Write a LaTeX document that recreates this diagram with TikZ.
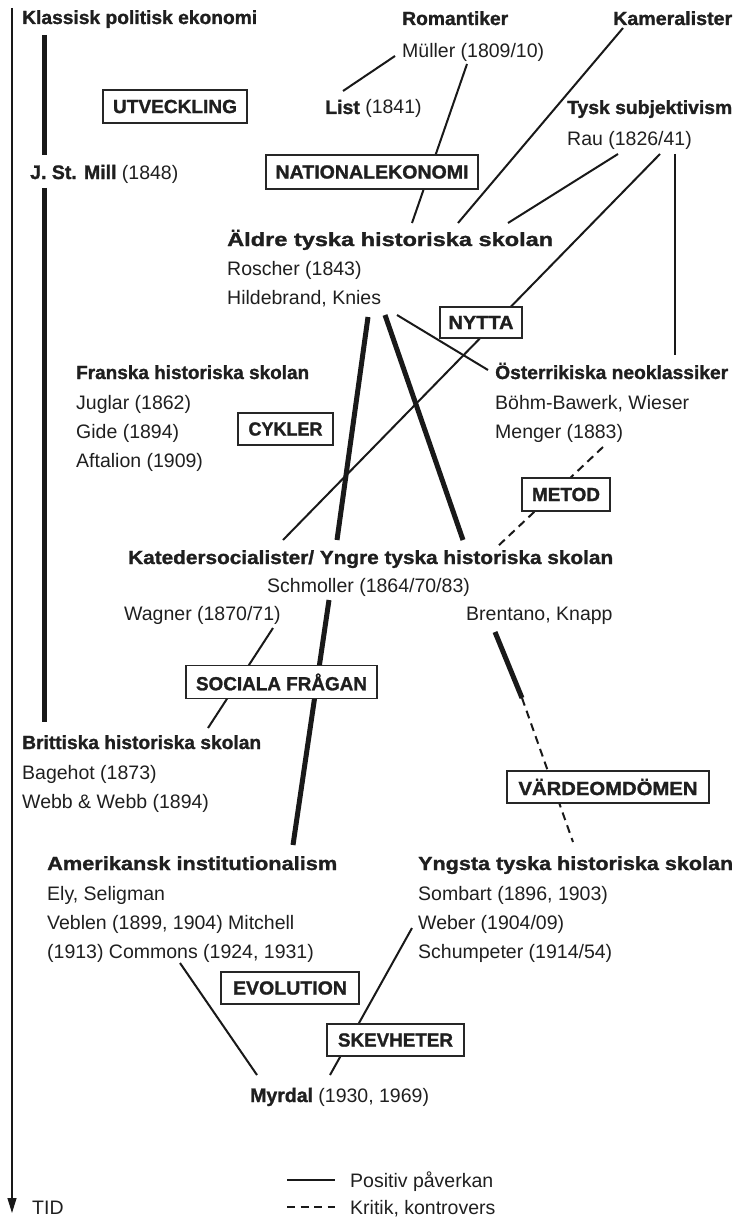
\documentclass[tikz,border=0pt]{standalone}
\usepackage{fontspec}
\setmainfont{Liberation Sans}[BoldFeatures={FakeBold=1.3}]
\usetikzlibrary{arrows.meta}
\newcommand\fw[2]{\resizebox{#1pt}{\height}{#2}}
\begin{document}
\begin{tikzpicture}[x=1pt,y=-1pt,
  txt/.style={inner sep=0pt, anchor=base west, font=\fontsize{19.5}{23}\selectfont, text=black!88},
  hd/.style={inner sep=0pt, anchor=base west, font=\fontsize{19}{23}\selectfont\bfseries, text=black!88},
  lbl/.style={draw=black!85, line width=1.3pt, fill=white, inner sep=0pt, minimum height=33pt, font=\fontsize{19}{23}\selectfont\bfseries, text=black!88},
  posline/.style={line width=2pt, draw=black!90},
  heavyline/.style={line width=5pt, draw=black!90},
  negline/.style={line width=2pt, draw=black!90, dash pattern=on 8pt off 5.5pt},
]
\useasboundingbox (0,0) rectangle (734,1217);

% ---------- text nodes ----------
\node[hd] (klassisk) at (22,24) {\fw{235}{Klassisk politisk ekonomi}};
\node[hd] (romantiker) at (402,25) {\fw{106}{Romantiker}};
\node[txt] (muller) at (402,58) {Müller (1809/10)};
\node[hd] (kameral) at (613,25) {\fw{119}{Kameralister}};
\node[txt] (list) at (325,114) {\textbf{List} (1841)};
\node[hd] (tysk) at (567,114) {\fw{165}{Tysk subjektivism}};
\node[txt] (rau) at (567,146) {Rau (1826/41)};
\node[txt] (mill) at (30,179) {\textbf{J. St. Mill} (1848)};
\node[hd] (aldre) at (227,246) {\fw{326}{Äldre tyska historiska skolan}};
\node[txt] (roscher) at (227,275) {Roscher (1843)};
\node[txt] (hildebrand) at (227,304) {Hildebrand, Knies};
\node[hd] (franska) at (76,379) {\fw{233}{Franska historiska skolan}};
\node[txt] (juglar) at (76,409) {Juglar (1862)};
\node[txt] (gide) at (76,438) {Gide (1894)};
\node[txt] (aftalion) at (76,467) {Aftalion (1909)};
\node[hd] (osterr) at (495,379) {\fw{233}{Österrikiska neoklassiker}};
\node[txt] (bohm) at (495,409) {Böhm-Bawerk, Wieser};
\node[txt] (menger) at (495,438) {Menger (1883)};
\node[hd] (kated) at (128,564) {\fw{485}{Katedersocialister/ Yngre tyska historiska skolan}};
\node[txt] (schmoller) at (267,592) {Schmoller (1864/70/83)};
\node[txt] (wagner) at (124,620) {Wagner (1870/71)};
\node[txt] (brentano) at (466,620) {Brentano, Knapp};
\node[hd] (brittiska) at (22,749) {\fw{239}{Brittiska historiska skolan}};
\node[txt] (bagehot) at (22,779) {Bagehot (1873)};
\node[txt] (webb) at (22,808) {Webb \& Webb (1894)};
\node[hd] (amerik) at (47,870) {\fw{290}{Amerikansk institutionalism}};
\node[txt] (ely) at (47,900) {Ely, Seligman};
\node[txt] (veblen) at (47,929) {Veblen (1899, 1904) Mitchell};
\node[txt] (commons) at (47,958) {(1913) Commons (1924, 1931)};
\node[hd] (yngsta) at (418,870) {\fw{315}{Yngsta tyska historiska skolan}};
\node[txt] (sombart) at (418,900) {Sombart (1896, 1903)};
\node[txt] (weber) at (418,929) {Weber (1904/09)};
\node[txt] (schump) at (418,958) {Schumpeter (1914/54)};
\node[txt] (myrdal) at (250,1102) {\textbf{Myrdal} (1930, 1969)};
\node[txt] (tid) at (32,1214) {TID};
\node[txt] (legpos) at (350,1187) {Positiv påverkan};
\node[txt] (legneg) at (350,1214) {Kritik, kontrovers};

% ---------- connector end points ----------
\coordinate (timeT) at (12,8);
\coordinate (timeB) at (12,1213);
\coordinate (klassB) at (44.5,35);
\coordinate (millT) at (44.5,155);
\coordinate (millB) at (44.5,188);
\coordinate (brittT) at (44.5,722);
\coordinate (mullerL) at (395,56);
\coordinate (listR) at (343,91);
\coordinate (mullerB) at (467,64);
\coordinate (aldreT1) at (412,223);
\coordinate (kameralB) at (623,28);
\coordinate (aldreT2) at (458,223);
\coordinate (rauB1) at (618,154);
\coordinate (aldreT3) at (508,223);
\coordinate (rauB2) at (660,154);
\coordinate (katedT1) at (283,540);
\coordinate (rauB3) at (675,154);
\coordinate (osterrT) at (675,355);
\coordinate (hildB1) at (397,315);
\coordinate (osterrL) at (488,370);
\coordinate (hildB2) at (368,317);
\coordinate (katedT2) at (337,540);
\coordinate (hildB3) at (385,315);
\coordinate (katedT3) at (463,540);
\coordinate (mengerB) at (603,447);
\coordinate (katedT4) at (497,547);
\coordinate (schmB) at (329,600);
\coordinate (amerikT) at (293,845);
\coordinate (wagnerB) at (273,628);
\coordinate (brittR) at (208,728);
\coordinate (brentB) at (495,632);
\coordinate (brentMid) at (522,698);
\coordinate (yngstaT) at (573,842);
\coordinate (commonsB) at (180,963);
\coordinate (myrdalT1) at (257,1075);
\coordinate (weberL) at (412,928);
\coordinate (myrdalT2) at (330,1075);
\coordinate (legA) at (287,1180);
\coordinate (legB) at (335,1180);
\coordinate (legC) at (287,1207);
\coordinate (legD) at (335,1207);

% ---------- connectors ----------
\draw[line width=1.2pt, black!90, -{Triangle[width=9pt,length=15pt]}] (timeT) -- (timeB);
\draw[line width=5.5pt, black!90] (klassB) -- (millT);
\draw[line width=5.5pt, black!90] (millB) -- (brittT);
\draw[posline] (mullerL) -- (listR);
\draw[posline] (mullerB) -- (aldreT1);
\draw[posline] (kameralB) -- (aldreT2);
\draw[posline] (rauB1) -- (aldreT3);
\draw[posline] (rauB2) -- (katedT1);
\draw[posline] (rauB3) -- (osterrT);
\draw[posline] (hildB1) -- (osterrL);
\draw[heavyline] (hildB2) -- (katedT2);
\draw[heavyline] (hildB3) -- (katedT3);
\draw[negline] (mengerB) -- (katedT4);
\draw[heavyline] (schmB) -- (amerikT);
\draw[posline] (wagnerB) -- (brittR);
\draw[heavyline] (brentB) -- (brentMid);
\draw[negline] (brentMid) -- (yngstaT);
\draw[posline] (commonsB) -- (myrdalT1);
\draw[posline] (weberL) -- (myrdalT2);
\draw[posline] (legA) -- (legB);
\draw[negline] (legC) -- (legD);

% ---------- theme boxes ----------
\node[lbl, minimum width=144pt] (utv) at (175,106.5) {\fw{124}{UTVECKLING}};
\node[lbl, minimum width=212pt, minimum height=34pt] (nat) at (372,172) {\fw{193}{NATIONALEKONOMI}};
\node[lbl, minimum width=82pt, minimum height=31pt] (nytta) at (481,322.5) {\fw{65}{NYTTA}};
\node[lbl, minimum width=95pt, minimum height=32pt] (cykler) at (285.5,429) {\fw{74}{CYKLER}};
\node[lbl, minimum width=88pt] (metod) at (566,494.5) {\fw{68}{METOD}};
\node[lbl, minimum width=191pt] (sociala) at (281.5,682) {\fw{171}{SOCIALA FRÅGAN}};
\node[lbl, minimum width=202pt, minimum height=32pt] (varde) at (608,787) {\fw{179}{VÄRDEOMDÖMEN}};
\node[lbl, minimum width=138pt, minimum height=32pt] (evol) at (290,988) {\fw{114}{EVOLUTION}};
\node[lbl, minimum width=137pt, minimum height=32pt] (skev) at (395.5,1040) {\fw{115}{SKEVHETER}};
\end{tikzpicture}
\end{document}
